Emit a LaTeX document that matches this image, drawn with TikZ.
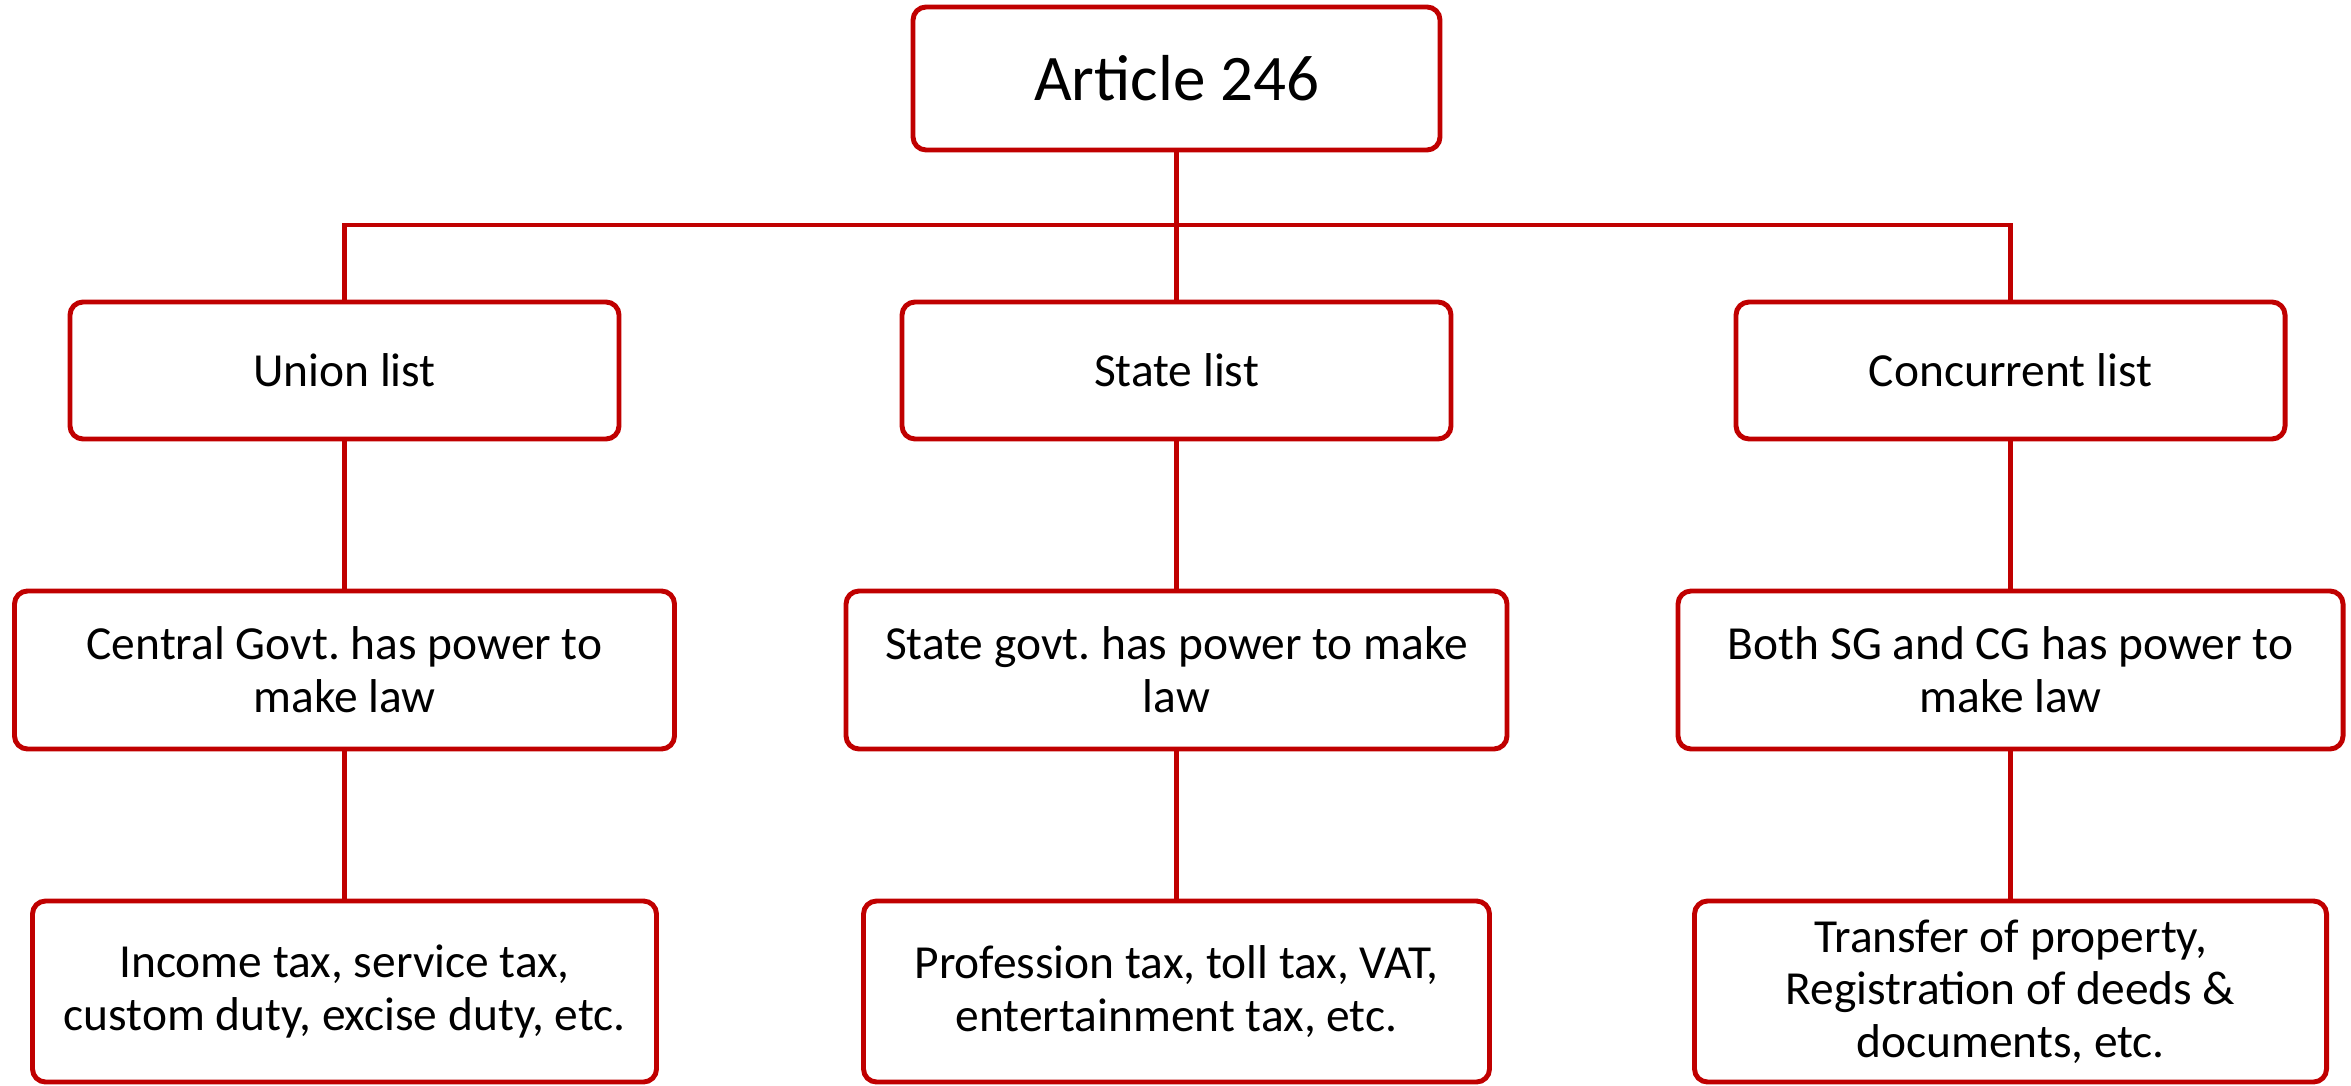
\documentclass[tikz,border=0pt]{standalone}
\usepackage{fontspec}
\setmainfont{Carlito}
\usetikzlibrary{positioning}
\definecolor{darkred}{HTML}{C00000}
\frenchspacing

\begin{document}
\begin{tikzpicture}[node distance=1.52cm,
    box/.style={draw=darkred, line width=1.4pt, rounded corners=0.13cm, fill=white,
      align=center, inner sep=0pt, outer sep=0pt, font=\fontsize{13.5}{15}\selectfont},
    link/.style={draw=darkred, line width=1.3pt}]
    \useasboundingbox (0,0) rectangle (23.51,10.85);
    % top
    \node[box, minimum width=5.27cm, minimum height=1.43cm, font=\fontsize{18.5}{22}\selectfont] (art) at (11.765,10.065) {Article 246};
    % lists
    \node[box, minimum width=5.49cm, minimum height=1.37cm] (state) [below=of art] {State list};
    \node[box, minimum width=5.49cm, minimum height=1.37cm] (union) [left=2.83cm of state] {Union list};
    \node[box, minimum width=5.49cm, minimum height=1.37cm] (conc) [right=2.85cm of state] {Concurrent list};
    % who makes law
    \node[box, minimum width=6.60cm, minimum height=1.58cm] (cgov) [below=of union] {Central Govt. has power to\\make law};
    \node[box, minimum width=6.61cm, minimum height=1.58cm] (sgov) [below=of state] {State govt. has power to make\\law};
    \node[box, minimum width=6.65cm, minimum height=1.58cm] (both) [below=of conc] {Both SG and CG has power to\\make law};
    % examples
    \node[box, minimum width=6.24cm, minimum height=1.81cm] (utax) [below=of cgov] {Income tax, service tax,\\custom duty, excise duty, etc.};
    \node[box, minimum width=6.26cm, minimum height=1.81cm] (stax) [below=of sgov] {Profession tax, toll tax, VAT,\\entertainment tax, etc.};
    \node[box, minimum width=6.32cm, minimum height=1.81cm] (ctax) [below=of both] {Transfer of property,\\Registration of deeds \&\\documents, etc.};
    \coordinate (bar) at ([yshift=-0.75cm]art.south);
    \draw[link] (art.south) -- (state.north);
    \draw[link] (union.north) |- (bar) -| (conc.north);
    \draw[link] (union) -- (cgov);
    \draw[link] (state) -- (sgov);
    \draw[link] (conc) -- (both);
    \draw[link] (cgov) -- (utax);
    \draw[link] (sgov) -- (stax);
    \draw[link] (both) -- (ctax);
\end{tikzpicture}
\end{document}
